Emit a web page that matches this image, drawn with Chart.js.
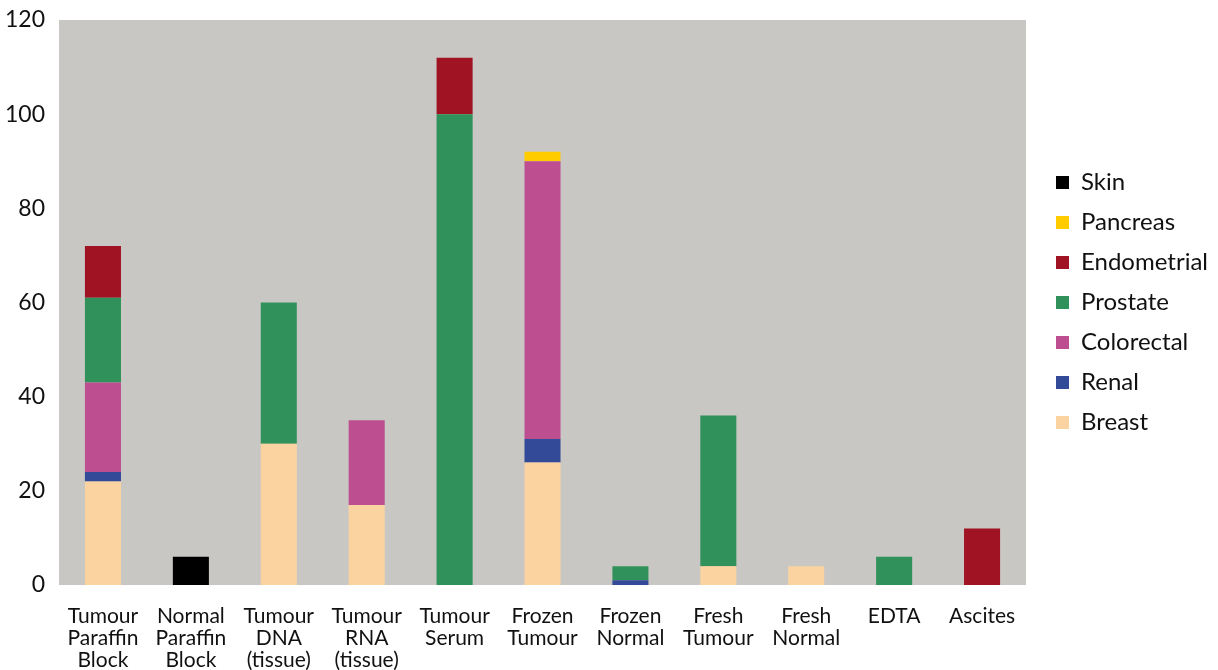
<!DOCTYPE html>
<html>
<head>
<meta charset="utf-8">
<script src="https://cdn.jsdelivr.net/npm/chart.js@4/dist/chart.umd.min.js"></script>
<style>
  html, body { margin: 0; padding: 0; background: #ffffff; }
  #wrap { width: 1218px; height: 670px; }
</style>
</head>
<body>
<div id="wrap"><canvas id="c" width="1218" height="670"></canvas></div>
<script>
// Sample types (x axis)
const categories = [
  ["Tumour", "Paraffin", "Block"],
  ["Normal", "Paraffin", "Block"],
  ["Tumour", "DNA", "(tissue)"],
  ["Tumour", "RNA", "(tissue)"],
  ["Tumour", "Serum"],
  ["Frozen", "Tumour"],
  ["Frozen", "Normal"],
  ["Fresh", "Tumour"],
  ["Fresh", "Normal"],
  ["EDTA"],
  ["Ascites"]
];

// Sample counts per cancer type, stacked bottom to top
const breast      = [22, 0, 30, 17, 0, 26, 0, 4, 4, 0, 0];
const renal       = [2, 0, 0, 0, 0, 5, 1, 0, 0, 0, 0];
const colorectal  = [19, 0, 0, 18, 0, 59, 0, 0, 0, 0, 0];
const prostate    = [18, 0, 30, 0, 100, 0, 3, 32, 0, 6, 0];
const endometrial = [11, 0, 0, 0, 12, 0, 0, 0, 0, 0, 12];
const pancreas    = [0, 0, 0, 0, 0, 2, 0, 0, 0, 0, 0];
const skin        = [0, 6, 0, 0, 0, 0, 0, 0, 0, 0, 0];

const yTicks = [0, 20, 40, 60, 80, 100, 120];

const FONT = "Lato, 'Open Sans', 'DejaVu Sans', sans-serif";

const series = [
  { label: "Breast",      data: breast,      color: "#fbd3a0" },
  { label: "Renal",       data: renal,       color: "#324a97" },
  { label: "Colorectal",  data: colorectal,  color: "#bd4f91" },
  { label: "Prostate",    data: prostate,    color: "#30915a" },
  { label: "Endometrial", data: endometrial, color: "#a01323" },
  { label: "Pancreas",    data: pancreas,    color: "#ffcc00" },
  { label: "Skin",        data: skin,        color: "#000000" }
];

// Grey panel behind the bars
const plotBackground = {
  id: "plotBackground",
  beforeDraw(chart) {
    const a = chart.chartArea;
    const ctx = chart.ctx;
    ctx.save();
    ctx.fillStyle = "#c8c7c3";
    ctx.fillRect(a.left, a.top, a.right - a.left, a.bottom - a.top);
    ctx.restore();
  }
};

new Chart(document.getElementById("c"), {
  type: "bar",
  data: {
    labels: categories,
    datasets: series.map(s => ({
      label: s.label,
      data: s.data,
      backgroundColor: s.color,
      borderWidth: 0,
      categoryPercentage: 1.0,
      barPercentage: 0.41
    }))
  },
  options: {
    responsive: false,
    animation: false,
    layout: { padding: 0 },
    plugins: {
      tooltip: { enabled: false },
      legend: {
        position: "right",
        fullSize: false,
        reverse: true,
        labels: {
          color: "#111",
          font: { family: FONT, size: 24 },
          boxWidth: 13,
          boxHeight: 13,
          padding: 16
        }
      }
    },
    scales: {
      x: {
        stacked: true,
        grid: { display: false, drawTicks: false },
        border: { display: false },
        ticks: {
          color: "#111",
          font: { family: FONT, size: 21, lineHeight: 1.05 },
          padding: 20,
          maxRotation: 0,
          autoSkip: false
        },
        afterFit(axis) { axis.height = 85; }
      },
      y: {
        stacked: true,
        min: 0,
        max: 120,
        afterBuildTicks(axis) { axis.ticks = yTicks.map(v => ({ value: v })); },
        grid: { display: false, drawTicks: false },
        border: { display: false },
        ticks: {
          color: "#111",
          font: { family: FONT, size: 23 },
          padding: 14
        },
        afterFit(axis) {
          axis.width = 59;
          axis.paddingTop = 20;
          axis.paddingBottom = 0;
        }
      },
      // empty spacer between the plot panel and the legend
      gap: {
        type: "linear",
        position: "right",
        display: true,
        grid: { display: false, drawTicks: false },
        border: { display: false },
        ticks: { display: false },
        afterFit(axis) { axis.width = 14; }
      }
    }
  },
  plugins: [plotBackground]
});
</script>
</body>
</html>
